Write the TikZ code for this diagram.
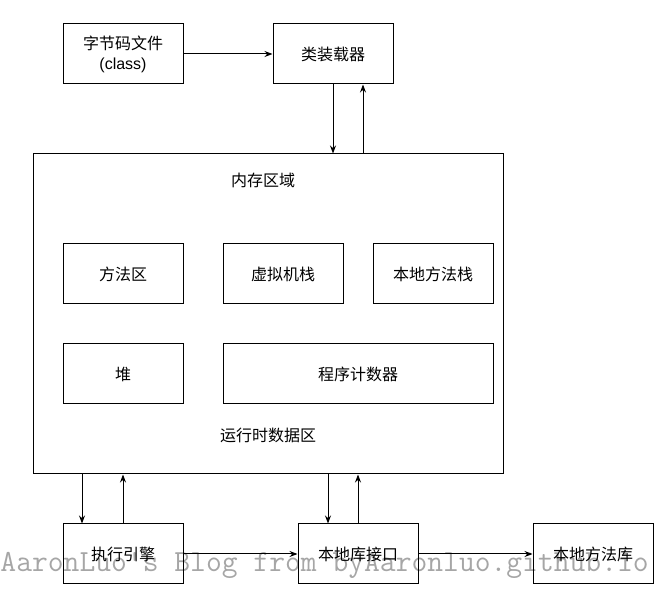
\documentclass[tikz,border=0pt]{standalone}
\usepackage{fontspec}
\setmainfont{Liberation Sans}
\newfontfamily\cjk{Noto Sans CJK SC}
\usetikzlibrary{arrows.meta}

\begin{document}
\begin{tikzpicture}[x=1pt,y=-1pt,line width=1pt,
  box/.style={draw,minimum width=120pt,minimum height=60pt,inner sep=0pt,align=center,font=\fontsize{16}{20}\selectfont\cjk},
  lab/.style={font=\fontsize{16}{20}\selectfont\cjk},
  arr/.style={-{Stealth[length=8pt,width=6pt]}}]
\useasboundingbox (0,0) rectangle (662,601);
% watermark
\node[text=black!35,font=\fontsize{30.7}{30}\selectfont\ttfamily,inner sep=0pt,anchor=base west] (mark) at (0,572){AaronLuo's Blog from byAaronluo.github.io};
\node[box,minimum width=470pt,minimum height=320pt] (mem) at (268,314){};
\node[lab] (memlab) at (263,180){内存区域};
\node[lab] (runlab) at (268,435){运行时数据区};
\foreach \n/\x/\y/\lab in {class/123/54/字节码文件\\{\rmfamily(class)},loader/333/54/类装载器,method/123/274/方法区,vmstack/283/274/虚拟机栈,natstack/433/274/本地方法栈,heap/123/374/堆,engine/123/554/执行引擎,natif/358/554/本地库接口,natlib/593/554/本地方法库}{\node[box] (\n) at (\x,\y){\lab};}
\node[box,minimum width=270pt] (pc) at (358,374){程序计数器};
\draw[arr] (class) -- (loader);
\draw[arr] (loader.south) -- (loader.south |- mem.north);
\draw[arr] ([xshift=30pt]loader.south |- mem.north) -- ([xshift=30pt]loader.south);
\draw[arr] ([xshift=-41pt]engine.north |- mem.south) -- ([xshift=-41pt]engine.north);
\draw[arr] (engine.north) -- (engine.north |- mem.south);
\draw[arr] ([xshift=-30pt]natif.north |- mem.south) -- ([xshift=-30pt]natif.north);
\draw[arr] (natif.north) -- (natif.north |- mem.south);
\draw[arr] (engine) -- (natif);
\draw[arr] (natif) -- (natlib);
\end{tikzpicture}
\end{document}
